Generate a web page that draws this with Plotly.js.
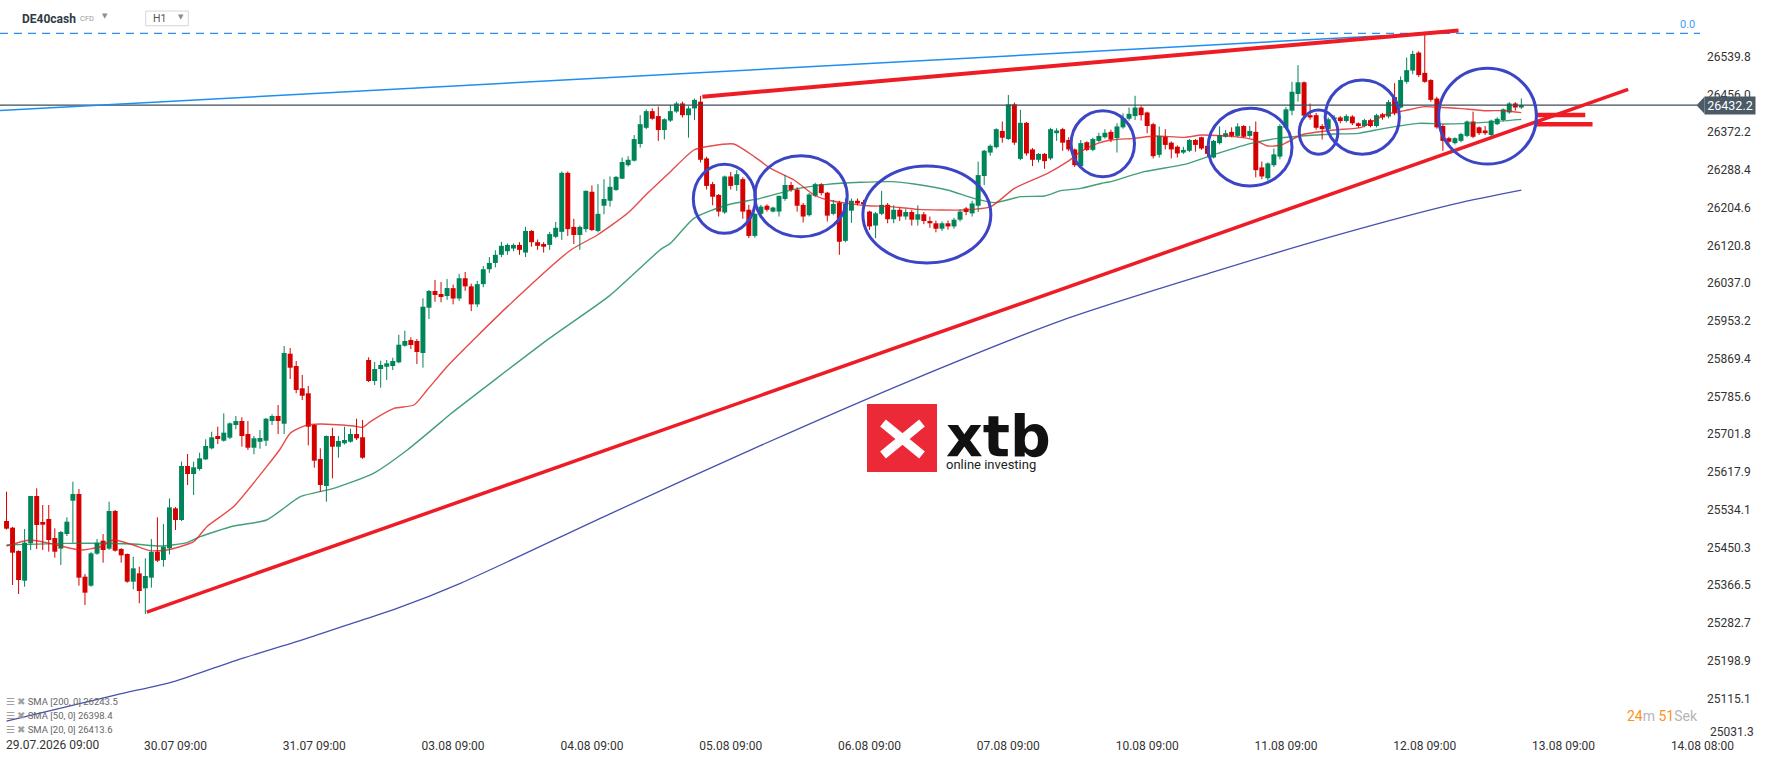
<!DOCTYPE html>
<html><head><meta charset="utf-8">
<script src="https://cdn.plot.ly/plotly-3.0.1.min.js"></script>
<style>html,body{margin:0;padding:0;background:#fff;}#chart{width:1768px;height:761px;}</style>
</head><body><div id="chart"></div>
<script>
// ---------- DATA ----------
const opens=[25509.1,25494.3,25442.5,25376.6,25459.5,25564.6,25506.9,25513.5,25471.3,25447.7,
25480.2,25554.2,25569.0,25385.5,25365.5,25436.6,25465.4,25447.7,25531.3,25446.9,
25435.8,25374.4,25392.9,25359.6,25383.3,25441.0,25422.5,25448.4,25537.2,25511.3,
25631.2,25613.4,25624.5,25646.0,25670.4,25697.8,25687.4,25694.1,25722.2,25731.1,
25702.2,25671.8,25685.1,25687.3,25731.1,25742.2,25725.0,25880.5,25853.2,25803.7,
25792.6,25722.2,25646.7,25586.8,25697.8,25674.0,25681.6,25685.1,25702.2,25695.0,
25866.5,25819.9,25846.5,25851.6,25853.2,25861.4,25898.2,25910.9,25908.7,25882.1,
25982.6,26019.7,26013.0,26008.6,26026,26003,26048,26030,25990,26035,
26068,26082,26100,26108,26114,26122,26105,26153,26128,26124,
26122,26140,26151,26282,26162,26144,26157,26240,26153,26209,
26220,26244,26269,26299,26309,26346,26382,26419,26408,26377,
26398,26418,26436,26410,26425,26440,26314,26257,26233,26194,
26274,26255,26268,26200,26142,26191,26209,26196,26196,26224,
26255,26245,26211,26188,26231,26257,26238,26191,26216,26131,
26198,26220,26217,26196,26165,26191,26211,26179,26200,26185,
26195,26178,26190,26175,26170,26158,26170,26163,26178,26203,
26192,26209,26275,26327,26339,26375,26357,26434,26313,26393,
26334,26311,26324,26314,26370,26379,26355,26334,26297,26350,
26333,26353,26361,26373,26359,26383,26402,26408,26427,26416,
26390,26322,26362,26349,26340,26327,26331,26355,26361,26342,
26316,26348,26362,26373,26364,26386,26364,26373,26294,26270,
26299,26318,26382,26420,26457,26483,26410,26410,26386,26379,
26401,26405,26397,26407,26392,26386,26399,26386,26412,26407,
26450,26427,26484,26509,26549,26504,26488,26447,26386,26359,
26348,26353,26364,26396,26383,26376,26366,26390,26399,26416,
26436,26427];
const highs=[25574.2,25496.0,25444.0,25491.3,25565.0,25581.6,25544.6,25544.6,25492.8,25487.0,
25517.2,25596.4,25580.1,25391.4,25440.0,25469.1,25480.2,25552.0,25533.5,25449.0,
25437.0,25429.9,25407.7,25426.2,25469.1,25517.2,25502.4,25559.4,25540.0,25640.8,
25657.8,25640.8,25660.8,25690.4,25707.4,25718.5,25748.0,25728.0,25742.2,25739.3,
25731.1,25697.8,25711.1,25737.7,25745.9,25766.6,25897.6,25893.1,25864.3,25833.2,
25808.8,25724.0,25670.5,25699.0,25716.2,25697.8,25718.4,25714.0,25736.2,25733.3,
25872.5,25862.1,25865.0,25866.5,25871.6,25922.7,25931.5,25916.9,25913.1,26003.5,
26021.9,26044.1,26039.7,26046.3,26034,26058,26062,26036,26042,26075,
26095,26110,26129,26125,26125,26128,26162,26155,26134,26128,
26151,26173,26285,26285,26180,26165,26243,26254,26257,26268,
26274,26275,26316,26319,26366,26410,26423,26425,26429,26403,
26433,26440,26440,26430,26447,26453,26318,26262,26235,26276,
26284,26288,26272,26211,26193,26211,26212,26207,26231,26277,
26262,26250,26215,26237,26260,26259,26240,26222,26220,26225,
26225,26225,26222,26198,26195,26242,26215,26210,26205,26202,
26200,26210,26195,26185,26176,26174,26176,26182,26201,26206,
26220,26307,26333,26345,26381,26396,26455,26438,26422,26395,
26337,26326,26326,26382,26381,26382,26361,26336,26355,26352,
26360,26371,26379,26378,26392,26414,26427,26453,26430,26418,
26393,26385,26379,26352,26343,26340,26357,26357,26362,26344,
26355,26385,26377,26383,26392,26388,26386,26396,26307,26305,
26336,26390,26428,26484,26521,26485,26436,26415,26390,26405,
26410,26408,26412,26410,26394,26402,26402,26413,26415,26444,
26481,26496,26538,26553,26552,26595,26490,26451,26390,26362,
26361,26371,26398,26418,26385,26386,26400,26405,26425,26439,
26439,26447];
const lows=[25490.0,25367.0,25347.0,25363.3,25444.7,25446.9,25444.7,25441.0,25427.7,25411.4,
25475.8,25461.0,25365.5,25322.6,25363.0,25434.0,25416.6,25445.0,25441.0,25416.6,
25372.0,25357.4,25326.3,25302.6,25361.1,25418.0,25407.7,25435.1,25489.1,25509.0,
25589.0,25566.8,25620.8,25644.5,25668.0,25680.0,25685.2,25691.0,25712.6,25674.0,
25666.7,25657.2,25669.6,25675.6,25722.2,25702.2,25702.2,25824.3,25792.6,25777.7,
25677.1,25627.4,25574.1,25551.9,25603.9,25649.6,25679.0,25683.0,25688.9,25647.0,
25817.7,25811.0,25805.0,25822.1,25844.3,25859.2,25896.0,25890.9,25857.6,25849.4,
25957.5,25995.9,25994.6,26000.0,25990,25998,26020,25975,25984,26028,
26060,26072,26095,26100,26108,26100,26095,26118,26111,26105,
26111,26137,26133,26142,26124,26111,26150,26153,26150,26190,
26207,26242,26268,26296,26307,26338,26379,26400,26353,26356,
26395,26415,26405,26360,26399,26305,26245,26210,26185,26191,
26245,26242,26180,26137,26138,26188,26196,26194,26185,26220,
26240,26196,26172,26185,26228,26232,26174,26188,26100,26128,
26171,26210,26200,26155,26137,26188,26170,26170,26175,26178,
26165,26165,26168,26160,26150,26153,26156,26158,26174,26188,
26185,26195,26255,26320,26336,26349,26355,26344,26310,26320,
26297,26305,26291,26310,26353,26331,26330,26295,26295,26330,
26330,26350,26358,26350,26327,26380,26398,26399,26398,26370,
26314,26316,26334,26314,26316,26324,26328,26329,26333,26318,
26314,26345,26360,26361,26361,26360,26360,26272,26268,26265,
26295,26312,26380,26410,26440,26405,26400,26378,26356,26376,
26396,26392,26394,26388,26382,26383,26383,26383,26400,26403,
26410,26425,26480,26501,26495,26482,26440,26380,26331,26347,
26345,26350,26361,26359,26366,26366,26363,26388,26396,26413,
26420,26424];
const closes=[25492.1,25438.8,25378.1,25461.0,25564.6,25500.2,25500.9,25466.9,25441.0,25484.7,
25507.6,25569.0,25383.3,25350.0,25437.3,25461.0,25444.7,25531.3,25443.2,25432.9,
25374.4,25404.0,25353.7,25387.0,25440.3,25421.0,25452.1,25539.4,25511.3,25631.2,
25613.4,25628.2,25648.2,25675.6,25694.8,25691.1,25705.2,25725.9,25731.1,25697.8,
25671.8,25692.7,25693.3,25736.2,25742.2,25731.1,25882.1,25849.4,25799.9,25787.2,
25718.4,25643.0,25589.0,25697.8,25674.0,25686.7,25688.9,25702.2,25692.7,25649.6,
25819.9,25846.5,25855.4,25859.2,25864.3,25900.5,25908.7,25899.8,25884.3,25984.8,
26019.7,26010.8,26006.4,26026.3,26003,26048,26030,25990,26035,26068,
26082,26100,26120,26122,26122,26111,26153,26128,26120,26118,
26146,26160,26282,26157,26144,26162,26242,26155,26191,26224,
26251,26273,26306,26311,26357,26390,26419,26402,26377,26401,
26419,26436,26410,26425,26444,26311,26253,26229,26196,26274,
26253,26279,26196,26142,26191,26207,26200,26205,26231,26255,
26244,26209,26185,26234,26257,26237,26187,26213,26129,26214,
26220,26214,26212,26163,26192,26211,26179,26200,26185,26195,
26178,26190,26175,26170,26158,26170,26163,26178,26196,26195,
26214,26277,26331,26342,26379,26360,26434,26349,26393,26325,
26311,26324,26308,26379,26376,26349,26334,26299,26348,26333,
26357,26364,26371,26356,26385,26403,26413,26427,26410,26386,
26319,26364,26344,26334,26325,26333,26355,26344,26336,26324,
26353,26366,26370,26364,26385,26362,26375,26288,26274,26303,
26323,26386,26423,26462,26483,26409,26405,26382,26379,26401,
26405,26397,26408,26392,26386,26399,26386,26410,26405,26439,
26414,26488,26510,26546,26499,26484,26444,26383,26353,26351,
26359,26368,26396,26362,26370,26370,26398,26402,26423,26436,
26427,26432.2];

// x-axis: candle index; day ticks every 23 hourly candles
const dayTickIdx=[28,51,74,97,120,143,166,189,212,235,258,281];
const dayLabels=['30.07 09:00','31.07 09:00','03.08 09:00','04.08 09:00','05.08 09:00','06.08 09:00','07.08 09:00','10.08 09:00','11.08 09:00','12.08 09:00','13.08 09:00','14.08 08:00'];
const firstDayLabel='29.07.2026 09:00';
const priceTicks=[26539.8,26456.0,26372.2,26288.4,26204.6,26120.8,26037.0,25953.2,25869.4,25785.6,25701.8,25617.9,25534.1,25450.3,25366.5,25282.7,25198.9,25115.1];
const bottomPriceTick=25031.3;

// moving averages: [candle index, value]
const sma20=[[0,25453.6],[3.9,25466.9],[7.2,25459.5],[12.2,25444.7],[15.5,25452],[17.7,25466.9],[21,25455.8],[23.8,25443.2],[26.6,25444.7],[31,25463.2],[33.2,25496.5],[37.6,25540.9],[43.1,25629.7],[45.4,25670],[47,25703.7],[49.5,25721],[52,25724.4],[57.5,25720],[59,25717],[60.3,25729.6],[64.2,25759],[67.5,25766.6],[69.7,25799.9],[73.5,25859.1],[83,25985],[93.5,26110.7],[97.9,26144],[102.9,26192.1],[106.2,26236.5],[110,26284.6],[113.9,26332.7],[116.7,26341.6],[120.5,26346],[123.9,26317.9],[126.6,26292],[130.5,26266.1],[133.8,26232.8],[136,26221.7],[139.3,26214.3],[142.7,26209.1],[146.5,26207],[151,26201],[158.7,26199.5],[163.1,26206.9],[167,26247.6],[172.5,26280.9],[175.8,26306.8],[178,26329],[180.8,26347.5],[183,26354.9],[186.9,26358.6],[190.2,26363.8],[195.2,26360.8],[198,26366],[203.5,26362.3],[206.8,26354.9],[209,26341.6],[211.2,26343.8],[214.5,26366],[220,26377.1],[224.5,26383],[228.3,26410.4],[231.7,26420],[235,26428.9],[237.2,26427.4],[240.5,26425.2],[244.9,26420],[248.2,26420],[251,26415.6]];
const sma50=[[0,25455.8],[10,25459.5],[21,25458],[25.5,25453.6],[29.9,25461],[32.1,25474.3],[37.6,25498],[43.1,25511.3],[48.7,25563.1],[54.2,25581.6],[60.8,25614.9],[66.4,25666.7],[72.4,25733.3],[73.5,25745.9],[90,25915],[100,26010],[108.4,26112],[110,26125.5],[113.9,26181],[119.4,26210.6],[124.9,26225.4],[130.5,26245.4],[136,26256.5],[141.5,26261],[146.5,26262.4],[150.4,26257.2],[155.9,26243.9],[160.3,26225.4],[163.7,26215.8],[168.1,26229.1],[172,26230.6],[174.7,26242.4],[178,26247.6],[181.5,26259],[183,26262.4],[188.5,26284.6],[195.2,26300.9],[200.7,26325.3],[206.2,26347.5],[210.6,26358.6],[214.5,26363.8],[220,26368.2],[224,26369.7],[228.3,26380.8],[233.9,26391.9],[238.3,26390.4],[244.9,26394.1],[251,26400.8]];
const sma200=[[0,25064.6],[18,25122.8],[28,25153.9],[38.2,25200.5],[49,25245],[58.9,25289.3],[64.7,25315],[75.2,25370.8],[100,25525],[125,25677],[150,25822],[175,25955],[200,26062],[220,26142],[240,26213],[251,26243.5]];
const legendRows=[['SMA [200, 0]','26243.5'],['SMA [50, 0]','26398.4'],['SMA [20, 0]','26413.6']];
const lastPrice=26432.2;
const fibZero=26591.7;
// hand-drawn annotations in (candle index, price)
const blueTrend=[-1.1,26420.4,228.1,26586.4];
const redTop=[115.3,26451,240.6,26598];
const redSupport=[23.25,25307,268.7,26467.5];
const redMarks=[[253.5,26410.4,261.6,26410.4],[253.5,26389.8,262.8,26389.8]];
const ellipses=[[113.8,124.1,26147.8,26300.9],[124.0,139.3,26140.2,26320.0],[141.9,163.1,26081.9,26297.2],[176.4,186.9,26273.4,26419.9],[199.1,213.0,26252.8,26425.3],[214.2,220.6,26323.2,26421.5],[218.5,230.8,26323.2,26488.1],[237.3,253.5,26301.6,26514.1]];

// ---------- BUILD ----------
const W=1768,H=761,ML=0,MR=62,MT=0,MB=24;
const PW=W-ML-MR, PH=H-MT-MB;
const xRange=[-1.08,281.6], yRange=[25029.6,26665.7];
const px=x=>x/PW, py=y=>1-y/PH;
const yPix=p=>PH*(yRange[1]-p)/(yRange[1]-yRange[0]);
const GREEN='#00845a', RED='#d50000';
const font='Roboto, "Open Sans", sans-serif';

const up={x:[],base:[],y:[]}, dn={x:[],base:[],y:[]};
const wu={x:[],y:[]}, wd={x:[],y:[]};
for(let i=0;i<closes.length;i++){
  const o=opens[i],c=closes[i];
  const g=c>=o?up:dn, w=c>=o?wu:wd;
  g.x.push(i); g.base.push(Math.min(o,c)); g.y.push(Math.max(Math.abs(c-o),2.5));
  w.x.push(i,i,null); w.y.push(lows[i],highs[i],null);
}
const traces=[
  {type:'scatter',mode:'lines',x:sma200.map(p=>p[0]),y:sma200.map(p=>p[1]),line:{color:'#4652ae',width:1.3,shape:'spline',smoothing:0.8},hoverinfo:'skip'},
  {type:'scatter',mode:'lines',x:sma50.map(p=>p[0]),y:sma50.map(p=>p[1]),line:{color:'rgba(20,135,85,0.8)',width:1.4,shape:'spline',smoothing:0.6},hoverinfo:'skip'},
  {type:'scatter',mode:'lines',x:sma20.map(p=>p[0]),y:sma20.map(p=>p[1]),line:{color:'rgba(225,30,30,0.8)',width:1.4,shape:'spline',smoothing:0.6},hoverinfo:'skip'},
  {type:'scatter',mode:'lines',x:wu.x,y:wu.y,line:{color:GREEN,width:1},hoverinfo:'skip',connectgaps:false},
  {type:'scatter',mode:'lines',x:wd.x,y:wd.y,line:{color:RED,width:1},hoverinfo:'skip',connectgaps:false},
  {type:'bar',x:up.x,base:up.base,y:up.y,width:0.82,marker:{color:GREEN,line:{width:0}},hoverinfo:'skip'},
  {type:'bar',x:dn.x,base:dn.base,y:dn.y,width:0.82,marker:{color:RED,line:{width:0}},hoverinfo:'skip'}
];

const kAt=pix=>xRange[0]+pix/PW*(xRange[1]-xRange[0]);
const shapes=[];
const line=(a,color,width,dash)=>({type:'line',xref:'x',yref:'y',x0:a[0],y0:a[1],x1:a[2],y1:a[3],line:{color:color,width:width,dash:dash||'solid'},layer:'above'});
shapes.push({type:'line',xref:'x',yref:'y',x0:xRange[0],x1:kAt(1700),y0:fibZero,y1:fibZero,line:{color:'#2a8ff0',width:1.2,dash:'8px,6px'},layer:'above'});
shapes.push({type:'line',xref:'x',yref:'y',x0:xRange[0],x1:kAt(1697),y0:lastPrice,y1:lastPrice,line:{color:'#3e4c57',width:1.3},layer:'above'});
shapes.push(line(blueTrend,'#1e8ef0',1.5));
shapes.push(line(redTop,'#ee1c25',4));
shapes.push(line(redSupport,'#ee1c25',3.5));
redMarks.forEach(m=>shapes.push(line(m,'#ee1c25',4.5)));
ellipses.forEach(e=>shapes.push({type:'circle',xref:'x',yref:'y',x0:e[0],x1:e[1],y0:e[2],y1:e[3],line:{color:'#3b45c6',width:3},layer:'above'}));
// price tag arrow
const tagY=yPix(lastPrice);
shapes.push({type:'path',xref:'paper',yref:'paper',path:`M ${px(1696.5)} ${py(tagY)} L ${px(1704.5)} ${py(tagY-8.5)} L ${px(1704.5)} ${py(tagY+8.5)} Z`,fillcolor:'#4a5a66',line:{width:0},layer:'above'});
// header H1 box
shapes.push({type:'rect',xref:'paper',yref:'paper',x0:px(145.7),x1:px(188.3),y0:py(25.7),y1:py(11),line:{color:'#d6d6d6',width:1},fillcolor:'#fff',layer:'above'});
// logo square + X
shapes.push({type:'rect',xref:'paper',yref:'paper',x0:px(867),x1:px(937),y0:py(472),y1:py(404),fillcolor:'#ec2a37',line:{width:0},layer:'above'});
shapes.push({type:'path',xref:'paper',yref:'paper',path:`M ${px(883)} ${py(423)} L ${px(922)} ${py(455)} M ${px(883)} ${py(455)} L ${px(922)} ${py(423)}`,line:{color:'#ffffff',width:9},layer:'above'});

const ann=[];
ann.push({xref:'paper',yref:'y',x:px(1704),xanchor:'left',y:lastPrice,yanchor:'middle',text:lastPrice.toFixed(1),showarrow:false,bgcolor:'#4a5a66',font:{family:font,size:12.5,color:'#fff'},width:50,height:17,borderpad:0});
ann.push({xref:'paper',yref:'y',x:px(1697),xanchor:'right',y:fibZero,yanchor:'middle',yshift:9,text:'0.0',showarrow:false,font:{family:font,size:11,color:'#42a0f0'}});
ann.push({xref:'paper',yref:'paper',x:px(1700),xanchor:'right',y:py(715.7),yanchor:'middle',showarrow:false,font:{family:font,size:14,color:'#b5b5b5'},
  text:'<span style="color:#f7941d">24</span>m <span style="color:#f7941d">51</span>Sek'});
ann.push({xref:'paper',yref:'paper',x:px(52),xanchor:'center',y:py(745),yanchor:'middle',text:firstDayLabel,showarrow:false,font:{family:font,size:12,color:'#333'}});
ann.push({xref:'paper',yref:'paper',x:px(1708),xanchor:'left',y:py(731.5),yanchor:'middle',text:bottomPriceTick.toFixed(1),showarrow:false,font:{family:font,size:12,color:'#333'}});
// header
ann.push({xref:'paper',yref:'paper',x:px(20),xanchor:'left',y:py(18.5),yanchor:'middle',text:'<b>DE40cash</b>',showarrow:false,font:{family:font,size:12,color:'#2f3b45'}});
ann.push({xref:'paper',yref:'paper',x:px(78),xanchor:'left',y:py(19),yanchor:'middle',text:'CFD',showarrow:false,font:{family:font,size:7.5,color:'#9a9a9a'}});
ann.push({xref:'paper',yref:'paper',x:px(105),xanchor:'center',y:py(16.5),yanchor:'middle',text:'▼',showarrow:false,font:{family:'DejaVu Sans',size:7,color:'#8d8d8d'}});
ann.push({xref:'paper',yref:'paper',x:px(150.5),xanchor:'left',y:py(19),yanchor:'middle',text:'H1',showarrow:false,font:{family:font,size:10.5,color:'#555'}});
ann.push({xref:'paper',yref:'paper',x:px(180.7),xanchor:'center',y:py(17),yanchor:'middle',text:'▼',showarrow:false,font:{family:'DejaVu Sans',size:7,color:'#8d8d8d'}});
// indicator legend
const legY=[701.7,715.7,729.3];
legendRows.forEach((r,i)=>ann.push({xref:'paper',yref:'paper',x:px(4),xanchor:'left',y:py(legY[i]),yanchor:'middle',showarrow:false,font:{family:font,size:9.5,color:'#666'},
  text:'<span style="color:#a0a0a0">☰</span> <span style="color:#a0a0a0">✖</span> '+r[0]+' '+r[1]}));
// logo text (one block: brand + tagline)
ann.push({xref:'paper',yref:'paper',x:px(944),xanchor:'left',y:py(437),yanchor:'middle',align:'left',showarrow:false,
  font:{family:font,size:10,color:'#222'},
  text:'<span style="font-size:57px;font-family:DejaVu Sans;font-weight:bold;color:#111">xtb</span><br><span style="font-size:13px">online investing</span>'});

const layout={width:W,height:H,margin:{l:ML,r:MR,t:MT,b:MB,pad:0},paper_bgcolor:'#fff',plot_bgcolor:'#fff',
  showlegend:false,barmode:'overlay',dragmode:false,
  xaxis:{range:xRange,showgrid:false,zeroline:false,showline:false,ticks:'',tickvals:dayTickIdx,ticktext:dayLabels,tickfont:{family:font,size:12,color:'#333'},fixedrange:true},
  yaxis:{range:yRange,side:'right',showgrid:false,zeroline:false,showline:false,ticks:'',tickvals:priceTicks,ticktext:priceTicks.map(v=>v.toFixed(1)),tickfont:{family:font,size:12,color:'#333'},fixedrange:true},
  shapes:shapes,annotations:ann};
Plotly.newPlot('chart',traces,layout,{staticPlot:true,displayModeBar:false});
</script></body></html>
